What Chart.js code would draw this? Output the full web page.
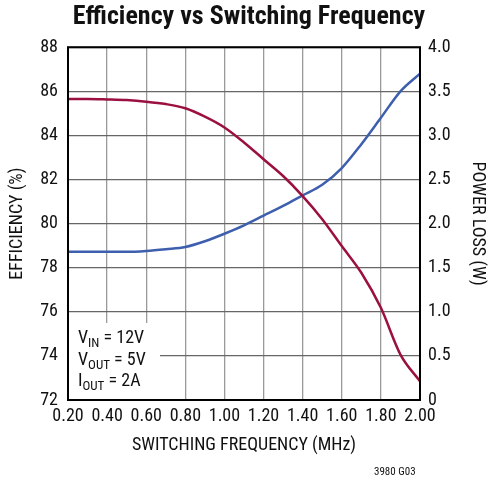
<!DOCTYPE html>
<html>
<head>
<meta charset="utf-8">
<script src="https://cdn.jsdelivr.net/npm/chart.js@4/dist/chart.umd.min.js"></script>
<style>
  html, body { margin: 0; padding: 0; background: #fff; }
  #wrap { width: 498px; height: 481px; }
</style>
</head>
<body>
<div id="wrap"><canvas id="chart" width="498" height="481"></canvas></div>
<script>
// ── Data ──
var freqs = [0.2, 0.3, 0.4, 0.5, 0.6, 0.7, 0.8, 0.9, 1.0, 1.1, 1.2, 1.3, 1.4, 1.5, 1.6, 1.7, 1.8, 1.9, 2.0];
var efficiency = [85.65, 85.65, 85.63, 85.6, 85.53, 85.42, 85.23, 84.85, 84.36, 83.68, 82.92, 82.16, 81.25, 80.2, 78.98, 77.77, 76.18, 74.06, 72.85];
var powerLoss = [1.68, 1.68, 1.68, 1.68, 1.69, 1.71, 1.735, 1.8, 1.885, 1.98, 2.09, 2.2, 2.32, 2.44, 2.63, 2.9, 3.2, 3.5, 3.7];
var conditions = [['V', 'IN', ' = 12V'], ['V', 'OUT', ' = 5V'], ['I', 'OUT', ' = 2A']];
var chartTitle = 'Efficiency vs Switching Frequency';
var figureId = '3980 G03';

var FONT = "'Liberation Sans Narrow', 'Roboto Condensed', 'DejaVu Sans Condensed', sans-serif";

function points(ys) {
    return freqs.map(function (x, i) { return { x: x, y: ys[i] }; });
}

// ── Frame, conditions box, figure id ──
var decorPlugin = {
    id: 'decor',
    beforeDatasetsDraw: function (chart) {
        var ctx = chart.ctx, a = chart.chartArea;
        ctx.save();
        ctx.fillStyle = '#fff';
        ctx.fillRect(a.left, 323, 92, a.bottom - 323);
        ctx.fillStyle = '#111';
        ctx.textBaseline = 'alphabetic';
        conditions.forEach(function (c, i) {
            var x = 78, y = 343 + i * 21.5;
            ctx.font = '18px ' + FONT;
            ctx.fillText(c[0], x, y);
            x += ctx.measureText(c[0]).width;
            ctx.font = '13px ' + FONT;
            ctx.fillText(c[1], x, y + 4);
            x += ctx.measureText(c[1]).width;
            ctx.font = '18px ' + FONT;
            ctx.fillText(c[2], x, y);
        });
        ctx.restore();
    },
    afterDraw: function (chart) {
        var ctx = chart.ctx, a = chart.chartArea;
        ctx.save();
        ctx.strokeStyle = '#000';
        ctx.lineWidth = 2;
        ctx.strokeRect(a.left, a.top, a.right - a.left, a.bottom - a.top);
        ctx.fillStyle = '#111';
        ctx.font = '11px ' + FONT;
        ctx.textAlign = 'left';
        ctx.textBaseline = 'middle';
        ctx.fillText(figureId, 374, 472);
        ctx.restore();
    }
};

new Chart(document.getElementById('chart'), {
    type: 'line',
    data: {
        datasets: [
            {
                label: 'Efficiency',
                data: points(efficiency),
                yAxisID: 'y',
                borderColor: '#9b1040',
                borderWidth: 2.5,
                pointRadius: 0,
                cubicInterpolationMode: 'monotone'
            },
            {
                label: 'Power Loss',
                data: points(powerLoss),
                yAxisID: 'y1',
                borderColor: '#3d5fae',
                borderWidth: 2.5,
                pointRadius: 0,
                cubicInterpolationMode: 'monotone'
            }
        ]
    },
    options: {
        responsive: false,
        animation: false,
        layout: { padding: 0 },
        plugins: {
            legend: { display: false },
            tooltip: { enabled: false },
            title: {
                display: true,
                text: chartTitle,
                color: '#111',
                font: { family: FONT, size: 26, weight: 'bold' },
                padding: { top: 2, bottom: 14 }
            }
        },
        scales: {
            x: {
                type: 'linear',
                min: 0.2,
                max: 2.0,
                afterFit: function (s) { s.height = 81; },
                ticks: {
                    stepSize: 0.2,
                    padding: 6,
                    color: '#111',
                    font: { family: FONT, size: 18 },
                    callback: function (v) { return v.toFixed(2); }
                },
                grid: { color: '#9a9a9a', lineWidth: 1.3, drawTicks: false },
                border: { display: false },
                title: {
                    display: true,
                    text: 'SWITCHING FREQUENCY (MHz)',
                    color: '#111',
                    font: { family: FONT, size: 18 },
                    padding: { top: 0, bottom: 25 }
                }
            },
            y: {
                position: 'left',
                min: 72,
                max: 88,
                afterFit: function (s) { s.width = 68; },
                ticks: {
                    stepSize: 2,
                    padding: 10,
                    color: '#111',
                    font: { family: FONT, size: 18 }
                },
                grid: { color: '#666', lineWidth: 1.3, drawTicks: false },
                border: { display: false },
                title: {
                    display: true,
                    text: 'EFFICIENCY (%)',
                    color: '#111',
                    font: { family: FONT, size: 18 },
                    padding: { top: 7, bottom: 0 }
                }
            },
            y1: {
                position: 'right',
                min: 0,
                max: 4,
                afterFit: function (s) { s.width = 78; },
                ticks: {
                    stepSize: 0.5,
                    padding: 8,
                    color: '#111',
                    font: { family: FONT, size: 18 },
                    callback: function (v) { return v === 0 ? '0' : v.toFixed(1); }
                },
                grid: { display: false, drawTicks: false },
                border: { display: false },
                title: {
                    display: true,
                    text: 'POWER LOSS (W)',
                    color: '#111',
                    font: { family: FONT, size: 18 },
                    padding: { top: 10, bottom: 0 }
                }
            }
        }
    },
    plugins: [decorPlugin]
});
</script>
</body>
</html>
